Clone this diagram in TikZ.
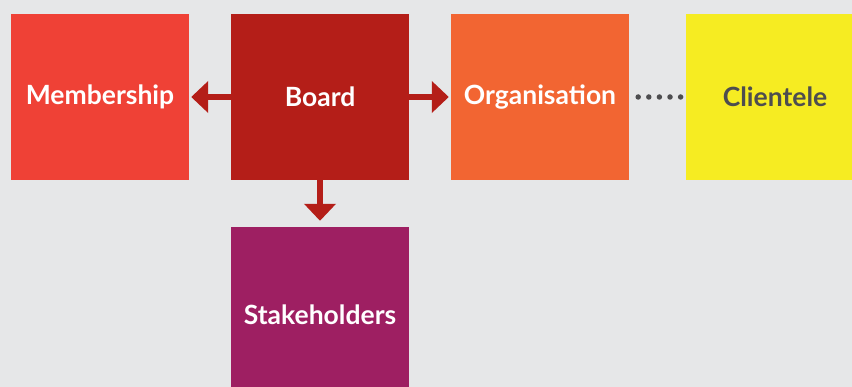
\documentclass[tikz,border=0pt]{standalone}
\usepackage{fontspec}
\setmainfont{Lato}
\usetikzlibrary{arrows.meta}

\definecolor{bgGrey}{HTML}{E6E7E8}
\definecolor{memberRed}{HTML}{EF4136}
\definecolor{boardRed}{HTML}{B41E18}
\definecolor{orgOrange}{HTML}{F26532}
\definecolor{clientYellow}{HTML}{F6EC22}
\definecolor{stakePurple}{HTML}{9E1F62}
\definecolor{textGrey}{HTML}{4D4D4F}

\tikzset{
  block/.style={minimum width=178pt, minimum height=166pt, inner sep=0pt,
    font=\fontsize{26.5}{30}\selectfont\bfseries, text=white},
  link/.style={draw=boardRed, line width=6pt,
    -{Triangle[length=17pt, width=31pt]}},
  dotlink/.style={draw=textGrey, line width=5.5pt, line cap=round,
    dash pattern=on 0pt off 10.6pt}
}

\begin{document}
\begin{tikzpicture}[x=1pt, y=-1pt]
  \fill[bgGrey] (0,0) rectangle (852,387);
  \clip (0,0) rectangle (852,387);
  \useasboundingbox (0,0) rectangle (852,387);

  \node[block, fill=memberRed]   (member) at (100,97)  {Membership};
  \node[block, fill=boardRed]    (board)  at (320,97)  {Board};
  \node[block, fill=orgOrange]   (org)    at (540,97)  {Organisation};
  \node[block, fill=clientYellow, text=textGrey] (client) at (775,97) {Clientele};
  % the lower block runs past the bottom edge
  \node[block, fill=stakePurple, minimum height=176pt] (stake) at (320,315) {Stakeholders};

  \draw[link, shorten >=2pt] (board.west) -- (member.east);
  \draw[link, shorten >=2pt] (board.east) -- (org.west);
  \draw[link, shorten >=6pt] (board.south) -- (stake.north);
  \draw[dotlink, shorten <=9pt, shorten >=4pt] (org.east) -- (client.west);
\end{tikzpicture}
\end{document}
